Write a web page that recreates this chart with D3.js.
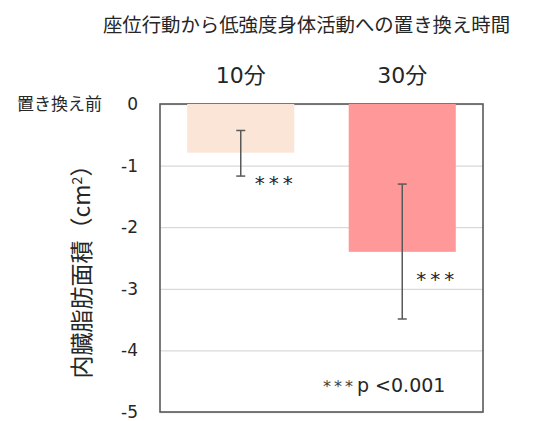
<!DOCTYPE html>
<html>
<head>
<meta charset="utf-8">
<script src="https://cdn.jsdelivr.net/npm/d3@7/dist/d3.min.js"></script>
<style>
  html, body { margin: 0; padding: 0; background: #ffffff; }
  svg { display: block; }
  text { font-family: "DejaVu Sans", "Noto Sans CJK JP", sans-serif; fill: #262626; }
</style>
</head>
<body>
<svg id="chart" width="546" height="421"></svg>
<script>
// Change in visceral fat area after replacing sedentary time with light activity
const categories = ["10分", "30分"];
const means = [-0.79, -2.40];
const errLow = [-1.17, -3.49];
const errHigh = [-0.43, -1.30];
const sigMarks = ["***", "***"];
const barColors = ["#FBE5D6", "#FF9999"];
const yTicks = [0, -1, -2, -3, -4, -5];
const titleText = "座位行動から低強度身体活動への置き換え時間";
const baselineLabel = "置き換え前";
const noteText = "p <0.001";

const svg = d3.select("#chart");
const frame = { left: 160, right: 483, top: 104, bottom: 412 };
const W = frame.right - frame.left;
const H = frame.bottom - frame.top;

const x = d3.scaleBand()
  .domain(categories)
  .range([frame.left, frame.right])
  .paddingInner(0.337)
  .paddingOuter(0.1685);

const y = d3.scaleLinear()
  .domain([0, -5])
  .range([frame.top, frame.bottom]);

// horizontal gridlines
const grid = svg.append("g")
  .attr("transform", `translate(${frame.left},0)`)
  .call(d3.axisLeft(y).tickValues(yTicks).tickSize(-W).tickFormat(""));
grid.select(".domain").remove();
grid.selectAll(".tick line").attr("stroke", "#d9d9d9").attr("stroke-width", 1.3);

// plot frame
svg.append("rect")
  .attr("x", frame.left).attr("y", frame.top)
  .attr("width", W).attr("height", H)
  .attr("fill", "none")
  .attr("stroke", "#595959")
  .attr("stroke-width", 1.6);

// y axis tick labels
const yAxis = svg.append("g")
  .attr("transform", `translate(${frame.left},0)`)
  .call(d3.axisLeft(y).tickValues(yTicks).tickSize(0).tickPadding(22)
    .tickFormat(d => d === 0 ? "0" : "-" + Math.abs(d)));
yAxis.select(".domain").remove();
yAxis.selectAll("text")
  .attr("font-size", 17)
  .attr("fill", "#262626")
  .style("font-family", "'DejaVu Sans', 'Noto Sans CJK JP', sans-serif");

// bars
svg.append("g").selectAll("rect")
  .data(categories)
  .join("rect")
  .attr("x", d => x(d))
  .attr("y", y(0))
  .attr("width", x.bandwidth())
  .attr("height", (d, i) => y(means[i]) - y(0))
  .attr("fill", (d, i) => barColors[i]);

// error bars
const eb = svg.append("g").attr("stroke", "#595959").attr("stroke-width", 1.5);
categories.forEach((c, i) => {
  const cx = x(c) + x.bandwidth() / 2;
  eb.append("line").attr("x1", cx).attr("x2", cx)
    .attr("y1", y(errHigh[i])).attr("y2", y(errLow[i]));
  [errHigh[i], errLow[i]].forEach(v => {
    eb.append("line").attr("x1", cx - 4.5).attr("x2", cx + 4.5)
      .attr("y1", y(v)).attr("y2", y(v));
  });
});

// significance marks beside each bar
svg.append("g").selectAll("text")
  .data(categories)
  .join("text")
  .attr("x", d => x(d) + x.bandwidth() / 2 + 14)
  .attr("y", (d, i) => i === 0 ? y(errLow[i]) + 14 : y(means[i]) + 34)
  .attr("font-size", 20)
  .attr("letter-spacing", 4)
  .attr("fill", "#404040")
  .text((d, i) => sigMarks[i]);

// category labels above the plot
svg.append("g").selectAll("text")
  .data(categories)
  .join("text")
  .attr("x", d => x(d) + x.bandwidth() / 2)
  .attr("y", 83)
  .attr("text-anchor", "middle")
  .attr("font-size", 22)
  .text(d => d);

// title
svg.append("text")
  .attr("x", 306.5).attr("y", 32)
  .attr("text-anchor", "middle")
  .attr("font-size", 19.4)
  .text(titleText);

// baseline label
svg.append("text")
  .attr("x", 17).attr("y", 110)
  .attr("font-size", 17)
  .text(baselineLabel);

// y axis title
const yt = svg.append("text")
  .attr("transform", "translate(90,266) rotate(-90)")
  .attr("text-anchor", "middle")
  .attr("font-size", 23)
  .style("font-family", "'Noto Sans CJK JP', sans-serif");
yt.append("tspan").text("内臓脂肪面積（cm");
yt.append("tspan").attr("dy", -8).attr("font-size", 14).text("2");
yt.append("tspan").attr("dy", 8).text("）");

// significance note
const note = svg.append("text")
  .attr("x", 323).attr("y", 392)
  .attr("font-size", 19);
note.append("tspan").attr("font-size", 16).attr("letter-spacing", 3).attr("fill", "#404040").text("***");
note.append("tspan").attr("dx", 1).text(noteText);
</script>
</body>
</html>
